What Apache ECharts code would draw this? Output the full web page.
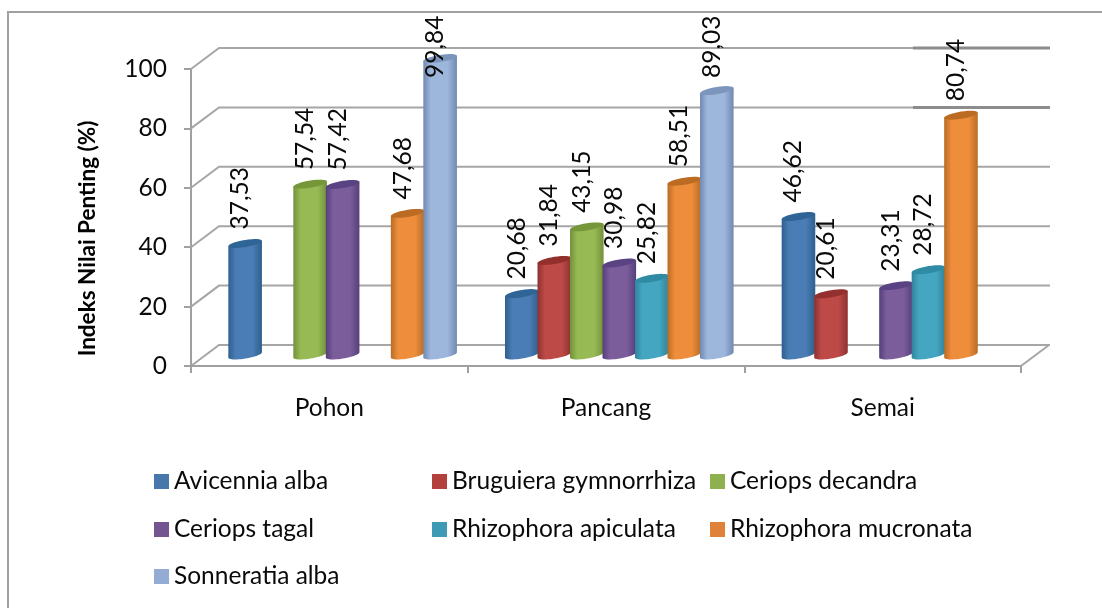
<!DOCTYPE html>
<html><head><meta charset="utf-8">
<style>html,body{margin:0;padding:0;background:#fff}#c{width:1102px;height:608px}</style>
<script src="https://cdn.jsdelivr.net/npm/echarts@6/dist/echarts.min.js"></script>
</head><body><div id="c"></div>
<script>
const categories = ['Pohon', 'Pancang', 'Semai'];
const avicenniaAlba = [37.53, 20.68, 46.62];
const bruguieraGymnorrhiza = [null, 31.84, 20.61];
const ceriopsDecandra = [57.54, 43.15, null];
const ceriopsTagal = [57.42, 30.98, 23.31];
const rhizophoraApiculata = [null, 25.82, 28.72];
const rhizophoraMucronata = [47.68, 58.51, 80.74];
const sonneratiaAlba = [99.84, 89.03, null];
const yTicks = [0, 20, 40, 60, 80, 100];
const seriesNames = ['Avicennia alba','Bruguiera gymnorrhiza','Ceriops decandra','Ceriops tagal','Rhizophora apiculata','Rhizophora mucronata','Sonneratia alba'];
const seriesValues = [avicenniaAlba, bruguieraGymnorrhiza, ceriopsDecandra, ceriopsTagal, rhizophoraApiculata, rhizophoraMucronata, sonneratiaAlba];

const palette = [
  {edge:'#2f5f8e', mid:'#4a7db5', top:'#2f6496', key:'#4877ab'},
  {edge:'#8e3230', mid:'#bd4a47', top:'#93302e', key:'#b3403d'},
  {edge:'#72913a', mid:'#98ba55', top:'#76963a', key:'#8fb04e'},
  {edge:'#563f7c', mid:'#7c5d9c', top:'#5a4382', key:'#735690'},
  {edge:'#30849c', mid:'#45a6c2', top:'#2f8aa3', key:'#3f9ab5'},
  {edge:'#b96c24', mid:'#ee8e3c', top:'#bb6c22', key:'#e0813a'},
  {edge:'#7189b0', mid:'#9db6dc', top:'#7c95bd', key:'#94abd3'}
];
const FONT = 'Lato';
const DX = 28, DY = 21, STEP = 32.5, HALF = 16.8, RY = 3.6, SHEAR = 2.6 / 16.5;
const LABEL_MAX_BOTTOM = 78;

function ellipsePts(cx, cy, from, to, n) {
  const pts = [];
  for (let i = 0; i <= n; i++) {
    const t = from + (to - from) * i / n;
    const ex = HALF * Math.cos(t);
    pts.push([cx + ex, cy + RY * Math.sin(t) - SHEAR * ex]);
  }
  return pts;
}
function cylinder(si) {
  return function (params, api) {
    const v = api.value(1);
    if (v == null || isNaN(v)) return;
    const top = api.coord([api.value(0), v]);
    const base = api.coord([api.value(0), 0]);
    const cx = base[0] + DX / 2 - 0.7 + (si - 3) * STEP;
    const by = base[1] - 11;
    const ty = top[1] - 11;
    const c = palette[si];
    const body = [[cx - HALF, ty + SHEAR * HALF]]
      .concat(ellipsePts(cx, by, Math.PI, 0, 24))
      .concat([[cx + HALF, ty - SHEAR * HALF]]);
    const labelBottom = Math.max(ty - 14, LABEL_MAX_BOTTOM);
    return {
      type: 'group',
      children: [
        {type:'polygon', shape:{points:body}, style:{fill:{type:'linear',x:0,y:0,x2:1,y2:0,colorStops:[
          {offset:0,color:c.edge},{offset:0.22,color:c.mid},{offset:0.72,color:c.mid},{offset:1,color:c.edge}]}}},
        {type:'polygon', shape:{points:ellipsePts(cx, ty, 0, 2 * Math.PI, 32)}, style:{fill:c.top}},
        {type:'text', x:cx - 5, y:labelBottom, rotation:Math.PI / 2,
          style:{text:api.value(1).toFixed(2).replace('.', ','), font:'24.5px '+FONT, fill:'#0a0a0a', align:'left', verticalAlign:'middle'}}
      ]
    };
  };
}
function walls(params, api) {
  const r = params.coordSys;
  const v = api.value(1);
  const y = api.coord([0, v])[1];
  const x0 = r.x, x1 = r.x + r.width;
  const children = [{type:'polyline', shape:{points:[[x0, y],[x0 + DX, y - DY],[x1 + DX + 1, y - DY]]},
    style:{stroke:'#a6a6a6', lineWidth:2, fill:null}}];
  if (v === 80 || v === 100) {
    children.push({type:'line', shape:{x1:x1 - 108, y1:y - DY, x2:x1 + DX + 1, y2:y - DY}, style:{stroke:'#8c8c8c', lineWidth:3}});
  }
  if (v === 0) {
    children.push({type:'line', shape:{x1:x1, y1:y, x2:x1 + DX, y2:y - DY}, style:{stroke:'#a6a6a6', lineWidth:2}});
  }
  return {type:'group', children};
}

const chart = echarts.init(document.getElementById('c'), null, {renderer:'canvas'});
const legendPos = [[154,469],[432,469],[710,469],[154,517],[432,517],[710,517],[154,564]];
chart.setOption({
  animation:false,
  backgroundColor:'#fff',
  textStyle:{fontFamily:FONT},
  graphic:[
    {type:'line', silent:true, z:-10, shape:{x1:8, y1:12, x2:1102, y2:12}, style:{stroke:'#a0a0a0', lineWidth:2}},
    {type:'line', silent:true, z:-10, shape:{x1:8, y1:11, x2:8, y2:608}, style:{stroke:'#a0a0a0', lineWidth:2}}
  ],
  grid:{left:191, right:81, top:69, bottom:242},
  xAxis:{type:'category', data:categories, boundaryGap:true,
    axisLine:{lineStyle:{color:'#a0a0a0', width:2}},
    axisTick:{show:true, alignWithLabel:false, length:7, lineStyle:{color:'#a0a0a0', width:2}},
    axisLabel:{margin:30, fontSize:24.5, color:'#0a0a0a', fontFamily:FONT}, z:5},
  yAxis:{type:'value', min:0, max:100, interval:20,
    name:'Indeks Nilai Penting (%)', nameLocation:'middle', nameGap:92, nameRotate:90,
    nameTextStyle:{fontSize:22.5, fontWeight:'bold', color:'#000', fontFamily:FONT, padding:[0,42,0,0]},
    axisLine:{show:true, lineStyle:{color:'#a0a0a0', width:2}},
    axisTick:{show:true, length:7, lineStyle:{color:'#a0a0a0', width:2}},
    axisLabel:{margin:24, fontSize:24.5, color:'#0a0a0a', fontFamily:FONT, formatter:v=>String(v)},
    splitLine:{show:false}},
  legend:seriesNames.map((n,i)=>({data:[n], left:legendPos[i][0], top:legendPos[i][1], itemWidth:15, itemHeight:15, itemGap:0,
    icon:'rect', textStyle:{fontSize:24.5, color:'#0a0a0a', fontFamily:FONT}, padding:0})),
  series:[
    {type:'custom', name:'grid', silent:true, z:1, renderItem:walls, clip:false, data:yTicks.map(t=>[0,t]), encode:{x:0,y:1}, legendHoverLink:false},
    ...seriesNames.map((n,si)=>({
      type:'custom', name:n, z:2+si, clip:false, renderItem:cylinder(si), encode:{x:0,y:1},
      itemStyle:{color:palette[si].key},
      data:seriesValues[si].map((v,i)=>v==null?null:[i,v]).filter(Boolean)
    }))
  ]
});
</script></body></html>
